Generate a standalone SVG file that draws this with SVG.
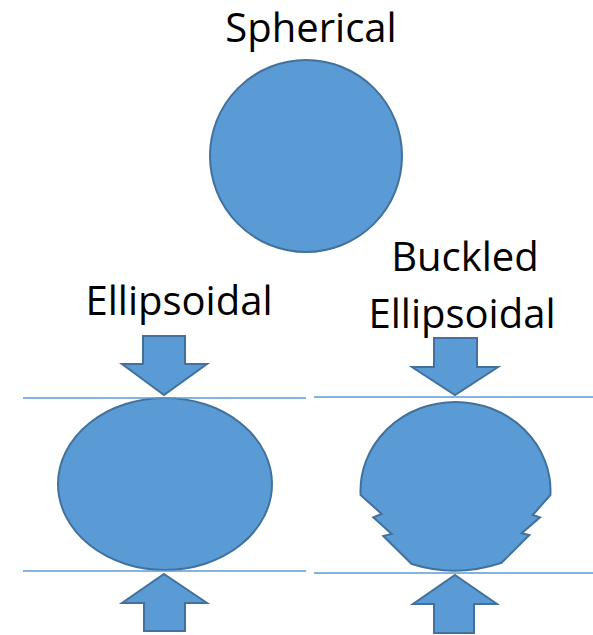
<svg xmlns="http://www.w3.org/2000/svg" width="593" height="635" viewBox="0 0 593 635">
  <style>
    .shape { fill: #5B9BD5; stroke: #41719C; stroke-width: 2; stroke-linejoin: miter; }
    .plate { stroke: #5B9BD5; stroke-width: 1.5; fill: none; }
    .label { font-family: "Open Sans", "Liberation Sans", sans-serif; font-size: 40px; fill: #000; text-anchor: middle; }
  </style>

  <!-- Spherical -->
  <g id="spherical">
    <text class="label" x="311" y="42">Spherical</text>
    <circle class="shape" cx="306" cy="156" r="96"/>
  </g>

  <!-- Ellipsoidal -->
  <g id="ellipsoidal">
    <text class="label" x="179" y="315">Ellipsoidal</text>
    <path class="shape" d="M143,336 H185 V364 H207 L164,395 L122,364 H143 Z"/>
    <ellipse class="shape" cx="165" cy="484" rx="107" ry="86"/>
    <path class="shape" d="M164,574 L207,603 H185 V631 H144 V603 H122 Z"/>
  </g>

  <!-- Buckled ellipsoidal -->
  <g id="buckled-ellipsoidal">
    <text class="label" x="465" y="271">Buckled</text>
    <text class="label" x="462" y="328">Ellipsoidal</text>
    <path class="shape" d="M434,338 H477 V367 H498 L455,395 L412,367 H434 Z"/>
    <path class="shape" d="M360.6,495 A95,89 0 1 1 550.4,495
             L532.7,515 L540,517.3 L521.7,533.3 L529.3,535 L501.7,562.7
             Q456,578 411.7,564
             L383.3,536 L391.7,534 L373.3,517.3 L381.7,514 Z"/>
    <path class="shape" d="M455,575 L497,604 H474 V633 H434 V604 H413 Z"/>
  </g>

  <!-- compression plates -->
  <g id="connectors">
    <line class="plate" x1="23" y1="398" x2="306" y2="398"/>
    <line class="plate" x1="23" y1="571" x2="306" y2="571"/>
    <line class="plate" x1="314" y1="397" x2="593" y2="397"/>
    <line class="plate" x1="314" y1="573" x2="593" y2="573"/>
  </g>
</svg>
